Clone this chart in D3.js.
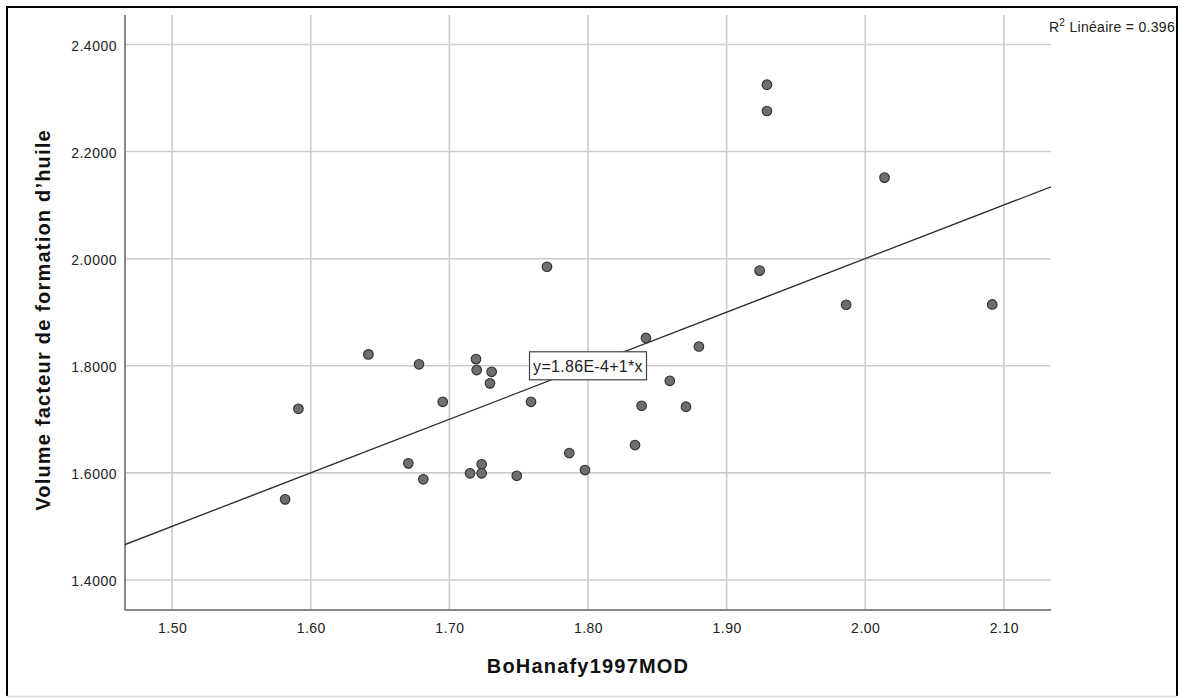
<!DOCTYPE html>
<html>
<head>
<meta charset="utf-8">
<script src="https://cdn.jsdelivr.net/npm/d3@7"></script>
<style>
  html, body { margin: 0; padding: 0; background: #fff; }
  svg { display: block; }
  text { font-family: "Liberation Sans", Arial, Helvetica, sans-serif; }
</style>
</head>
<body>
<script>
// ---- data ----
const xValues = [1.5815, 1.5911, 1.6416, 1.6781, 1.7192, 1.7197, 1.7305, 1.7293, 1.6952, 1.7589,
                 1.6704, 1.6812, 1.7149, 1.7233, 1.7233, 1.7486, 1.7865, 1.7978, 1.8339, 1.8387,
                 1.8590, 1.8707, 1.8418, 1.8800, 1.9291, 1.9291, 2.0139, 1.9238, 1.9862, 2.0916,
                 1.7704];
const yValues = [1.5506, 1.7198, 1.8213, 1.8027, 1.8125, 1.7920, 1.7888, 1.7672, 1.7328, 1.7328,
                 1.6178, 1.5880, 1.5992, 1.6160, 1.5992, 1.5947, 1.6371, 1.6053, 1.6520, 1.7254,
                 1.7720, 1.7236, 1.8520, 1.8360, 2.3249, 2.2757, 2.1514, 1.9777, 1.9140, 1.9145,
                 1.9849];
const xTicks = [1.50, 1.60, 1.70, 1.80, 1.90, 2.00, 2.10];
const yTicks = [1.4, 1.6, 1.8, 2.0, 2.2, 2.4];
const xDomain = [1.466, 2.134];
const yDomain = [1.344, 2.455];
const fitIntercept = 1.86e-4;
const fitSlope = 1;
const fitLabel = "y=1.86E-4+1*x";
const fitLabelAt = [1.80, 1.80];
const r2Text = "0.396";
const xTitle = "BoHanafy1997MOD";
const yTitle = "Volume facteur de formation d\u2019huile";

const W = 1185, H = 698;
const svg = d3.select("body").append("svg").attr("width", W).attr("height", H);

// outer frame
svg.append("line").attr("x1", 7).attr("x2", 7).attr("y1", 6).attr("y2", 696).attr("stroke", "#000").attr("stroke-width", 2);
svg.append("line").attr("x1", 6).attr("x2", 1178).attr("y1", 7).attr("y2", 7).attr("stroke", "#000").attr("stroke-width", 2);
svg.append("line").attr("x1", 1177).attr("x2", 1177).attr("y1", 6).attr("y2", 696).attr("stroke", "#000").attr("stroke-width", 2);
svg.append("line").attr("x1", 7).attr("x2", 1177).attr("y1", 696.5).attr("y2", 696.5).attr("stroke", "#dcdcdc").attr("stroke-width", 1.5);

const pLeft = 125, pRight = 1051, pTop = 15, pBottom = 610;
const x = d3.scaleLinear().domain(xDomain).range([pLeft, pRight]);
const y = d3.scaleLinear().domain(yDomain).range([pBottom, pTop]);

// gridlines
const grid = svg.append("g");
grid.selectAll("line.v").data(xTicks).join("line").attr("class", "v")
  .attr("x1", d => x(d)).attr("x2", d => x(d)).attr("y1", pTop).attr("y2", pBottom)
  .attr("stroke", "#cccccc").attr("stroke-width", 1.6);
grid.selectAll("line.h").data(yTicks).join("line").attr("class", "h")
  .attr("x1", pLeft).attr("x2", pRight).attr("y1", d => y(d)).attr("y2", d => y(d))
  .attr("stroke", "#cccccc").attr("stroke-width", 1.6);

// axes
const xAxis = d3.axisBottom(x).tickValues(xTicks).tickFormat(d3.format(".2f")).tickSize(0).tickPadding(13);
const yAxis = d3.axisLeft(y).tickValues(yTicks).tickFormat(d3.format(".4f")).tickSize(0).tickPadding(8);
const gx = svg.append("g").attr("transform", `translate(0,${pBottom})`).call(xAxis);
const gy = svg.append("g").attr("transform", `translate(${pLeft},0)`).call(yAxis);
[gx, gy].forEach(g => {
  g.select(".domain").remove();
  g.selectAll("text").attr("font-size", 14).attr("fill", "#222").style("letter-spacing", "0.5px")
    .attr("font-family", '"Liberation Sans", Arial, sans-serif');
});
gy.selectAll("text").attr("dy", "0.42em");
svg.append("line").attr("x1", pLeft).attr("x2", pLeft).attr("y1", pTop).attr("y2", pBottom + 0.8).attr("stroke", "#888").attr("stroke-width", 2);
svg.append("line").attr("x1", pLeft).attr("x2", pRight).attr("y1", pBottom).attr("y2", pBottom).attr("stroke", "#888").attr("stroke-width", 2);

// fit line
svg.append("clipPath").attr("id", "plotclip").append("rect")
  .attr("x", pLeft).attr("y", pTop).attr("width", pRight - pLeft).attr("height", pBottom - pTop);
const line = d3.line().x(d => x(d)).y(d => y(fitIntercept + fitSlope * d));
svg.append("path").datum(xDomain).attr("d", line).attr("clip-path", "url(#plotclip)")
  .attr("fill", "none").attr("stroke", "#2a2a2a").attr("stroke-width", 1.3);

// points
svg.append("g").selectAll("circle").data(xValues.map((v, i) => [v, yValues[i]])).join("circle")
  .attr("cx", d => x(d[0])).attr("cy", d => y(d[1])).attr("r", 4.8)
  .attr("fill", "#6e6e6e").attr("stroke", "#2e2e2e").attr("stroke-width", 1.1);

// equation label
const lx = x(fitLabelAt[0]), ly = y(fitLabelAt[1]);
const lab = svg.append("g");
lab.append("rect").attr("x", lx - 58.5).attr("y", ly - 14).attr("width", 117).attr("height", 28)
  .attr("fill", "#fff").attr("stroke", "#444").attr("stroke-width", 1.2);
lab.append("text").attr("x", lx).attr("y", ly + 6.5).attr("text-anchor", "middle")
  .attr("font-size", 16).style("letter-spacing", "0.3px").attr("fill", "#222").text(fitLabel);

// R2 label
const r2 = svg.append("text").attr("x", 1175).attr("y", 32).attr("text-anchor", "end")
  .attr("font-size", 14).attr("fill", "#222").style("letter-spacing", "0.3px");
r2.append("tspan").text("R");
r2.append("tspan").attr("font-size", 10).attr("dy", -6).text("2");
r2.append("tspan").attr("dy", 6).text(" Lin\u00e9aire = " + r2Text);

// axis titles
svg.append("text").attr("x", (pLeft + pRight) / 2).attr("y", 673).attr("text-anchor", "middle")
  .attr("font-size", 20).attr("font-weight", "bold").style("letter-spacing", "1.2px").attr("fill", "#111").text(xTitle);
svg.append("text").attr("transform", "translate(50,320) rotate(-90)").attr("text-anchor", "middle")
  .attr("font-size", 20).attr("font-weight", "bold").style("letter-spacing", "1.2px").attr("fill", "#111").text(yTitle);
</script>
</body>
</html>
